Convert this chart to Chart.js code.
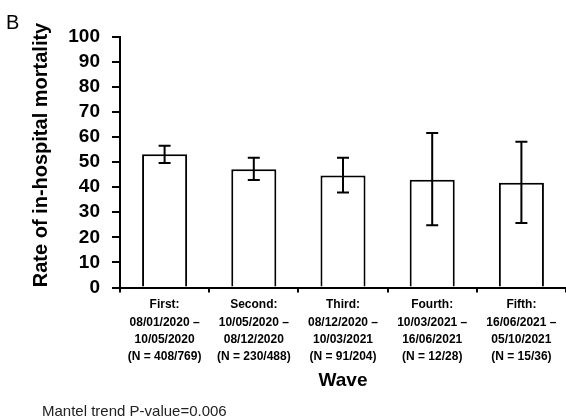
<!DOCTYPE html>
<html>
<head>
<meta charset="utf-8">
<script src="https://cdn.jsdelivr.net/npm/chart.js@4"></script>
<style>
  html, body { margin: 0; padding: 0; background: #fff; }
  #wrap { width: 566px; height: 420px; position: relative; }
</style>
</head>
<body>
<div id="wrap"><canvas id="waveChart"></canvas></div>
<script>
// waves with their date ranges and counts
var waveLabels = [
    ['First:', '08/01/2020 \u2013', '10/05/2020', '(N = 408/769)'],
    ['Second:', '10/05/2020 \u2013', '08/12/2020', '(N = 230/488)'],
    ['Third:', '08/12/2020 \u2013', '10/03/2021', '(N = 91/204)'],
    ['Fourth:', '10/03/2021 \u2013', '16/06/2021', '(N = 12/28)'],
    ['Fifth:', '16/06/2021 \u2013', '05/10/2021', '(N = 15/36)']
];
var mortality = [53.1, 47.1, 44.6, 42.9, 41.7];
var ciLow = [49.6, 42.8, 37.8, 24.8, 25.7];
var ciHigh = [56.5, 51.7, 51.7, 61.6, 58.1];
var yTicks = [0, 10, 20, 30, 40, 50, 60, 70, 80, 90, 100];

var FONT = "'Liberation Sans', Arial, sans-serif";

// error bars drawn from the y scale
var errorBars = {
    id: 'errorBars',
    afterDatasetsDraw: function (chart) {
        var ctx = chart.ctx;
        var y = chart.scales.y;
        var meta = chart.getDatasetMeta(0);
        ctx.save();
        ctx.strokeStyle = '#000';
        ctx.lineWidth = 2;
        meta.data.forEach(function (bar, i) {
            var top = y.getPixelForValue(ciHigh[i]);
            var bot = y.getPixelForValue(ciLow[i]);
            var cap = 6;
            ctx.beginPath();
            ctx.moveTo(bar.x, top);
            ctx.lineTo(bar.x, bot);
            ctx.moveTo(bar.x - cap, top);
            ctx.lineTo(bar.x + cap, top);
            ctx.moveTo(bar.x - cap, bot);
            ctx.lineTo(bar.x + cap, bot);
            ctx.stroke();
        });
        ctx.restore();
    }
};

// panel letter, y title and footnote
var extraText = {
    id: 'extraText',
    afterDraw: function (chart) {
        var ctx = chart.ctx;
        ctx.save();
        ctx.fillStyle = '#000';
        ctx.textAlign = 'left';
        ctx.textBaseline = 'alphabetic';
        ctx.font = '20px ' + FONT;
        ctx.fillText('B', 6, 29);

        ctx.fillStyle = '#222';
        ctx.font = '15px ' + FONT;
        ctx.fillText('Mantel trend P-value=0.006', 42, 416);

        ctx.fillStyle = '#000';
        ctx.translate(41, 155);
        ctx.rotate(-Math.PI / 2);
        ctx.textAlign = 'center';
        ctx.textBaseline = 'middle';
        ctx.font = 'bold 20px ' + FONT;
        ctx.fillText('Rate of in-hospital mortality', 0, 0);
        ctx.restore();
    }
};

var ctx = document.getElementById('waveChart').getContext('2d');
new Chart(ctx, {
    type: 'bar',
    data: {
        labels: waveLabels,
        datasets: [{
            data: mortality,
            backgroundColor: '#fff',
            borderColor: '#000',
            borderWidth: 2,
            categoryPercentage: 1,
            barPercentage: 0.505
        }]
    },
    options: {
        responsive: true,
        maintainAspectRatio: false,
        animation: false,
        devicePixelRatio: 1,
        layout: { padding: { top: 36.5, left: 0, right: 0, bottom: 0 } },
        plugins: {
            legend: { display: false },
            tooltip: { enabled: false }
        },
        scales: {
            x: {
                afterFit: function (scale) { scale.height = 132.5; },
                grid: {
                    offset: true,
                    drawOnChartArea: false,
                    drawTicks: true,
                    tickLength: 5,
                    color: '#000',
                    lineWidth: 2
                },
                border: { display: true, color: '#000', width: 2 },
                ticks: {
                    color: '#000',
                    padding: 4,
                    maxRotation: 0,
                    autoSkip: false,
                    font: { family: FONT, size: 12, weight: 'bold', lineHeight: 1.43 }
                },
                title: {
                    display: true,
                    text: 'Wave',
                    color: '#000',
                    padding: { top: 0, bottom: 27.6 },
                    font: { family: FONT, size: 19, weight: 'bold', lineHeight: 1.2 }
                }
            },
            y: {
                min: 0,
                max: 100,
                afterFit: function (scale) { scale.width = 120; },
                afterBuildTicks: function (scale) {
                    scale.ticks = yTicks.map(function (v) { return { value: v }; });
                },
                grid: {
                    drawOnChartArea: false,
                    drawTicks: true,
                    tickLength: 8,
                    color: '#000',
                    lineWidth: 2
                },
                border: { display: true, color: '#000', width: 2 },
                ticks: {
                    color: '#000',
                    padding: 12,
                    autoSkip: false,
                    font: { family: FONT, size: 19, weight: 'bold' }
                }
            }
        }
    },
    plugins: [errorBars, extraText]
});
</script>
</body>
</html>
